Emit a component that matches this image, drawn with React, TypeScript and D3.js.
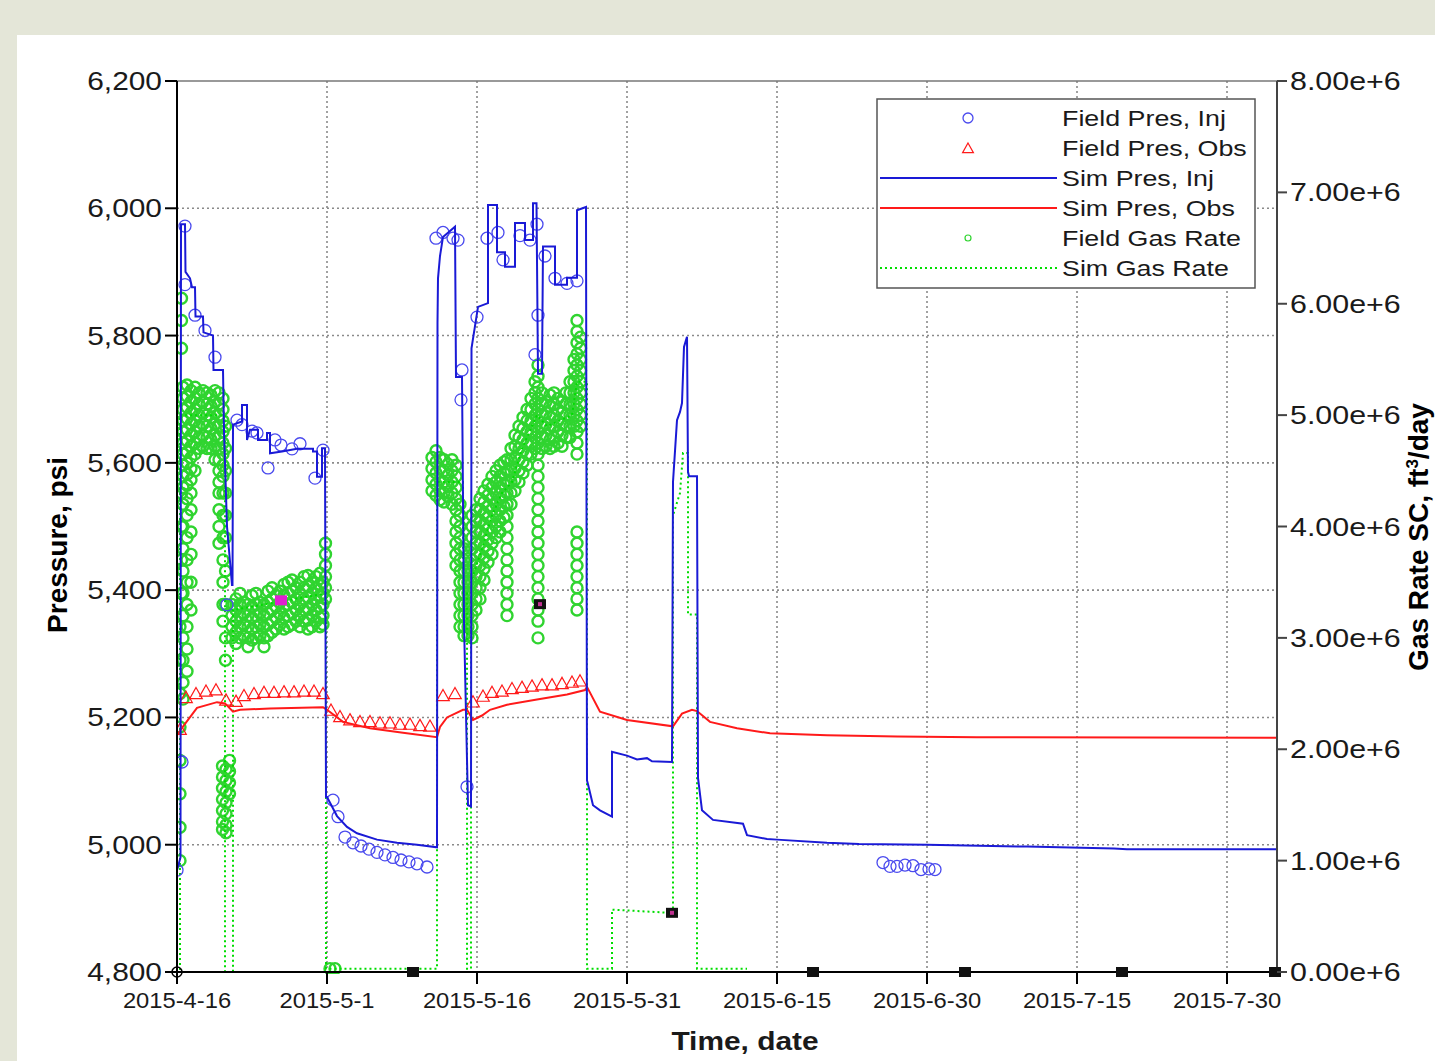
import React from 'react';
import * as d3 from 'd3';

// ---------- data (day offset from 2015-04-16) ----------
const startDate = Date.UTC(2015, 3, 16);

const xTickLabels = ['2015-4-16', '2015-5-1', '2015-5-16', '2015-5-31', '2015-6-15', '2015-6-30', '2015-7-15', '2015-7-30'];
const pressureTicks = [4800, 5000, 5200, 5400, 5600, 5800, 6000, 6200];
const gasTicks = [0, 1e6, 2e6, 3e6, 4e6, 5e6, 6e6, 7e6, 8e6];

// Sim Pres, Inj  [day, psi]
const simPresInj: [number, number][] = [
  [0, 4960], [0.35, 4980], [0.4, 5975], [0.8, 5975], [0.85, 5900], [1.3, 5890], [1.5, 5876], [1.8, 5876],
  [1.85, 5830], [2.6, 5830], [2.65, 5805], [3.6, 5800], [3.65, 5746], [4.6, 5746], [4.7, 5650], [5.0, 5500],
  [5.5, 5408], [5.55, 5408], [5.6, 5660], [6.5, 5665], [6.5, 5691], [7.0, 5691], [7.0, 5636], [7.3, 5652],
  [8.1, 5652], [8.1, 5636], [9.0, 5636], [9.0, 5647], [9.3, 5647], [9.3, 5615], [10.5, 5618], [12.0, 5622],
  [13.6, 5622], [13.6, 5618], [14.0, 5618], [14.0, 5578], [14.5, 5578], [14.5, 5623], [14.8, 5623],
  [14.9, 5075], [15.0, 5075], [15.5, 5060], [16.0, 5045], [17.0, 5028], [18.0, 5018], [20, 5008], [22, 5003],
  [24, 5000], [26.0, 4996], [26.05, 5820], [26.1, 5890], [26.3, 5925], [26.6, 5955], [27.8, 5971], [27.9, 5735],
  [28.5, 5735], [28.7, 5350], [29.1, 5062], [29.4, 5060], [29.45, 5780], [30.1, 5845], [31.1, 5851], [31.1, 6005],
  [32.0, 6005], [32.0, 5931], [32.8, 5931], [32.8, 5908], [33.8, 5908], [33.8, 5977], [34.8, 5977], [34.8, 5950],
  [35.6, 5950], [35.6, 6008], [35.95, 6008], [36.1, 5740], [36.5, 5740], [36.6, 5940], [37.8, 5940], [37.8, 5880],
  [39.0, 5880], [39.0, 5891], [40.0, 5891], [40.0, 5997], [40.9, 6002], [41.0, 5101], [41.1, 5095], [41.6, 5062],
  [42.3, 5054], [43.5, 5044], [43.5, 5146], [45, 5140], [46, 5134], [47, 5136], [47.5, 5131], [49.5, 5130],
  [49.6, 5570], [50.0, 5667], [50.3, 5680], [50.5, 5694], [50.7, 5782], [51.0, 5798], [51.1, 5586], [51.2, 5579],
  [52.0, 5579], [52.1, 5105], [52.5, 5054], [53.6, 5039], [56.6, 5033], [57.0, 5015], [59, 5009], [60, 5008],
  [65, 5003], [68.2, 5001], [75, 5000], [85, 4997], [93.7, 4994], [95, 4993], [110, 4993],
];

// Sim Pres, Obs  [day, psi]
const simPresObs: [number, number][] = [
  [0, 5172], [0.8, 5190], [2.0, 5215], [4.0, 5224], [4.8, 5222], [5.6, 5209], [6.3, 5212], [9.3, 5214],
  [14.6, 5216], [15.0, 5212], [16.6, 5193], [19.3, 5183], [22.6, 5176], [26.0, 5169], [26.3, 5185], [27.0, 5200],
  [28.6, 5212], [29.0, 5212], [29.6, 5196], [30.5, 5203], [31.3, 5212], [33, 5220], [36, 5228], [39, 5236],
  [40.8, 5243], [41.0, 5248], [42.3, 5209], [45, 5196], [49.6, 5186], [50.5, 5206], [51.5, 5212], [52.0, 5210],
  [53.3, 5193], [56, 5183], [59.3, 5175], [65, 5172], [72, 5170], [80, 5169], [110, 5168],
];

// Field Pres, Obs  [day, psi]
const fieldPresObs: [number, number][] = [
  [0.3, 5180], [0.9, 5230], [1.9, 5236], [2.9, 5240], [3.9, 5242], [4.9, 5226], [5.9, 5224], [6.7, 5233],
  [7.7, 5236], [8.7, 5238], [9.7, 5238], [10.7, 5239], [11.7, 5239], [12.7, 5240], [13.7, 5240], [14.6, 5236],
  [15.4, 5210], [16.3, 5200], [17.3, 5195], [18.3, 5192], [19.3, 5192], [20.3, 5190], [21.3, 5190], [22.3, 5188],
  [23.3, 5188], [24.3, 5186], [25.3, 5185], [26.6, 5233], [27.8, 5236], [29.6, 5223], [30.6, 5232], [31.5, 5238],
  [32.5, 5240], [33.5, 5244], [34.5, 5246], [35.5, 5248], [36.5, 5250], [37.5, 5250], [38.5, 5252], [39.5, 5254],
  [40.3, 5256],
];

// Field Pres, Inj  [day, psi]
const fieldPresInj: [number, number][] = [
  [0.0, 4960], [0.5, 5130], [0.8, 5972], [0.8, 5880], [1.8, 5832], [2.8, 5808], [3.8, 5766], [5.0, 5377],
  [6.0, 5667], [6.5, 5660], [7.5, 5650], [8.0, 5647], [9.1, 5592], [9.8, 5636], [10.4, 5628], [11.5, 5622],
  [12.3, 5630], [13.8, 5576], [14.6, 5620],
  [15.6, 5070], [16.1, 5044], [16.8, 5012], [17.6, 5003], [18.4, 4998], [19.2, 4993], [20.0, 4988], [20.8, 4984],
  [21.6, 4980], [22.4, 4976], [23.2, 4973], [24.0, 4970], [25.0, 4965],
  [25.9, 5953], [26.6, 5962], [27.6, 5953], [28.1, 5950], [28.5, 5746], [28.4, 5699], [29.0, 5091], [30.0, 5829],
  [31.0, 5953], [32.1, 5962], [32.6, 5919], [34.3, 5957], [35.3, 5950], [36.0, 5975], [36.1, 5832], [35.8, 5770],
  [36.8, 5925], [37.8, 5890], [39.0, 5882], [40.0, 5886],
  [70.6, 4972], [71.3, 4966], [72.0, 4966], [72.8, 4968], [73.6, 4967], [74.4, 4961], [75.2, 4962], [75.8, 4961],
];

// Field Gas Rate, read as columns: [day, rates in millions ft3/day ...]
const fieldGasColumns: [number, number[]][] = [
  [0.3, [1.0, 1.3, 1.6, 1.9, 2.2, 2.5, 2.8, 3.1]],
  [0.45, [3.4, 3.7, 4.0, 4.3, 5.6, 5.85, 6.05]],
  [0.6, [5.25, 5.15, 5.05, 4.95, 4.85, 4.75, 4.65, 4.55, 4.45, 4.35, 4.2, 4.0, 3.8, 3.6, 3.4, 3.2, 3.0, 2.8, 2.6, 2.45]],
  [1.0, [5.27, 5.17, 5.07, 4.97, 4.87, 4.77, 4.67, 4.57, 4.47, 4.37, 4.25, 4.1, 3.9, 3.7, 3.5, 3.3, 3.1, 2.9, 2.7]],
  [1.4, [5.22, 5.12, 5.02, 4.92, 4.82, 4.72, 4.62, 4.52, 4.42, 4.3, 4.15, 3.95, 3.75, 3.5, 3.25]],
  [1.8, [5.25, 5.15, 5.05, 4.95, 4.85, 4.75, 4.65, 4.5]],
  [2.2, [5.2, 5.1, 5.0, 4.9, 4.8, 4.7]],
  [2.6, [5.22, 5.12, 5.02, 4.92, 4.82, 4.72]],
  [3.0, [5.2, 5.1, 5.0, 4.9, 4.8, 4.7]],
  [3.4, [5.18, 5.08, 4.98, 4.88, 4.78, 4.7]],
  [3.8, [5.22, 5.12, 5.02, 4.92, 4.82, 4.72, 4.6]],
  [4.2, [5.2, 5.1, 5.0, 4.9, 4.8, 4.7, 4.6, 4.5, 4.4, 4.3, 4.15, 4.0, 3.85]],
  [4.6, [5.15, 5.05, 4.95, 4.85, 4.75, 4.65, 4.55, 4.45, 4.3, 4.1, 3.9, 3.7, 3.5, 3.3, 3.15]],
  [4.85, [4.9, 4.7, 4.5, 4.3, 4.1, 3.9, 3.6, 3.3, 3.0, 2.8]],
  [4.55, [1.85, 1.75, 1.65, 1.55, 1.45, 1.35, 1.28]],
  [4.9, [1.82, 1.72, 1.62, 1.52, 1.42, 1.32, 1.25]],
  [5.25, [1.9, 1.8, 1.7, 1.6]],
  [5.5, [3.3, 3.2, 3.1, 3.0]],
  [5.9, [3.35, 3.25, 3.15, 3.05, 2.95]],
  [6.3, [3.4, 3.3, 3.2, 3.1, 3.0]],
  [6.7, [3.32, 3.22, 3.12, 3.02]],
  [7.1, [3.3, 3.2, 3.1, 3.0, 2.92]],
  [7.5, [3.38, 3.28, 3.18, 3.08, 2.98]],
  [7.9, [3.4, 3.3, 3.2, 3.1, 3.0]],
  [8.3, [3.32, 3.22, 3.12, 3.02]],
  [8.7, [3.3, 3.2, 3.1, 3.0, 2.92]],
  [9.1, [3.42, 3.32, 3.22, 3.12, 3.02]],
  [9.5, [3.45, 3.35, 3.25, 3.15, 3.05]],
  [9.9, [3.38, 3.28, 3.18, 3.08]],
  [10.3, [3.42, 3.32, 3.22, 3.12]],
  [10.7, [3.48, 3.38, 3.28, 3.18, 3.08]],
  [11.1, [3.5, 3.4, 3.3, 3.2, 3.1]],
  [11.5, [3.52, 3.42, 3.32, 3.22, 3.12]],
  [11.9, [3.45, 3.35, 3.25, 3.15]],
  [12.3, [3.5, 3.4, 3.3, 3.2, 3.1]],
  [12.7, [3.55, 3.45, 3.35, 3.25, 3.15]],
  [13.1, [3.56, 3.46, 3.36, 3.26, 3.16, 3.08]],
  [13.5, [3.5, 3.4, 3.3, 3.2, 3.1]],
  [13.9, [3.55, 3.45, 3.35, 3.25, 3.15]],
  [14.3, [3.58, 3.48, 3.38, 3.28, 3.18, 3.1]],
  [14.6, [3.5, 3.4, 3.3, 3.2, 3.12]],
  [14.85, [3.85, 3.75, 3.65, 3.55, 3.45, 3.35]],
  [25.5, [4.62, 4.52, 4.42, 4.32]],
  [25.9, [4.68, 4.58, 4.48, 4.38, 4.28]],
  [26.3, [4.62, 4.52, 4.42, 4.32, 4.24]],
  [26.7, [4.6, 4.5, 4.4, 4.3, 4.22]],
  [27.1, [4.56, 4.46, 4.36, 4.27]],
  [27.5, [4.6, 4.5, 4.4, 4.3, 4.2]],
  [27.9, [4.55, 4.45, 4.35, 4.25, 4.15, 4.05, 3.95, 3.85, 3.75, 3.65]],
  [28.3, [4.2, 4.1, 4.0, 3.9, 3.8, 3.7, 3.6, 3.5, 3.4, 3.3, 3.2, 3.1]],
  [28.7, [3.8, 3.7, 3.6, 3.5, 3.4, 3.3, 3.2, 3.1, 3.02]],
  [29.1, [3.6, 3.5, 3.4, 3.3, 3.2, 3.1, 3.02]],
  [29.5, [4.1, 4.0, 3.9, 3.8, 3.7, 3.6, 3.5, 3.4, 3.3, 3.2, 3.1, 3.0]],
  [29.9, [4.15, 4.05, 3.95, 3.85, 3.75, 3.65, 3.55, 3.45, 3.35, 3.25]],
  [30.3, [4.25, 4.15, 4.05, 3.95, 3.85, 3.75, 3.65, 3.55, 3.45, 3.35]],
  [30.7, [4.32, 4.22, 4.12, 4.02, 3.92, 3.82, 3.72, 3.62, 3.52]],
  [31.1, [4.38, 4.28, 4.18, 4.08, 3.98, 3.88, 3.78, 3.68]],
  [31.5, [4.45, 4.35, 4.25, 4.15, 4.05, 3.95, 3.85, 3.75]],
  [31.9, [4.5, 4.4, 4.3, 4.2, 4.1, 4.0, 3.9]],
  [32.3, [4.55, 4.45, 4.35, 4.25, 4.15, 4.05, 3.95]],
  [32.7, [4.58, 4.48, 4.38, 4.28, 4.18, 4.08]],
  [33.0, [4.6, 4.5, 4.4, 4.3, 4.2, 4.1, 4.0, 3.9, 3.8, 3.7, 3.6, 3.5, 3.4, 3.3, 3.2]],
  [33.4, [4.7, 4.6, 4.5, 4.4, 4.3, 4.2]],
  [33.8, [4.82, 4.72, 4.62, 4.52, 4.42, 4.32]],
  [34.2, [4.9, 4.8, 4.7, 4.6, 4.5, 4.4]],
  [34.6, [4.98, 4.88, 4.78, 4.68, 4.58, 4.48]],
  [35.0, [5.05, 4.95, 4.85, 4.75, 4.65, 4.55]],
  [35.4, [5.15, 5.05, 4.95, 4.85, 4.75, 4.65]],
  [35.8, [5.3, 5.2, 5.1, 5.0, 4.9, 4.8, 4.7]],
  [36.1, [5.45, 5.35, 5.25, 5.15, 5.05, 4.95, 4.85, 4.75, 4.65, 4.55, 4.45, 4.35, 4.25, 4.15, 4.05, 3.95, 3.85, 3.75, 3.65, 3.55, 3.45, 3.35, 3.25, 3.15, 3.0]],
  [36.5, [5.2, 5.1, 5.0, 4.9, 4.8, 4.7]],
  [36.9, [5.12, 5.02, 4.92, 4.82, 4.72]],
  [37.3, [5.18, 5.08, 4.98, 4.88, 4.78, 4.7]],
  [37.7, [5.2, 5.1, 5.0, 4.9, 4.8, 4.72]],
  [38.1, [5.15, 5.05, 4.95, 4.85, 4.75]],
  [38.5, [5.12, 5.02, 4.92, 4.82, 4.72]],
  [38.9, [5.2, 5.1, 5.0, 4.9, 4.8]],
  [39.3, [5.3, 5.2, 5.1, 5.0, 4.9, 4.8]],
  [39.7, [5.5, 5.4, 5.3, 5.2, 5.1, 5.0, 4.9]],
  [40.0, [5.85, 5.75, 5.65, 5.55, 5.45, 5.35, 5.25, 5.15, 5.05, 4.95, 4.85, 4.75, 4.65, 3.95, 3.85, 3.75, 3.65, 3.55, 3.45, 3.35, 3.25]],
  [40.35, [5.7, 5.6, 5.5, 5.4, 5.3, 5.2, 5.1, 5.0, 4.9]],
  [15.3, [0.03]], [15.8, [0.03]],
];

// Sim Gas Rate [day, millions ft3/day]
const simGasRate: [number, number][] = [
  [0, 0], [0.3, 0], [0.3, 5.0], [4.8, 5.0], [4.8, 0], [5.6, 0], [5.6, 3.25], [14.9, 3.4], [14.9, 0.03],
  [26.0, 0.03], [26.0, 4.4], [28.6, 4.4], [28.6, 3.4], [29.0, 3.4], [29.0, 0.03], [29.4, 0.03], [29.4, 3.5],
  [30.5, 3.8], [31.5, 4.1], [32.5, 4.3], [33.5, 4.4], [34.5, 4.7], [35.5, 4.9], [36.0, 5.0], [37.0, 4.9],
  [39.5, 5.0], [40.0, 5.3], [41.0, 5.3], [41.0, 0.03], [43.5, 0.03], [43.5, 0.56], [49.6, 0.53], [49.6, 4.1],
  [50.3, 4.3], [50.6, 4.66], [51.1, 4.66], [51.1, 3.21], [52.0, 3.21], [52.0, 0.03], [57.0, 0.03],
];

// event markers [day, psi, kind]
const eventMarkers: [number, number, string][] = [
  [10.4, 5384, 'magenta'], [36.3, 5378, 'black'], [49.5, 4893, 'black'],
  [23.6, 4800, 'black'], [63.6, 4800, 'black'], [78.8, 4800, 'black'], [94.5, 4800, 'black'], [109.8, 4800, 'black'],
];

const legendItems = ['Field Pres, Inj', 'Field Pres, Obs', 'Sim Pres, Inj', 'Sim Pres, Obs', 'Field Gas Rate', 'Sim Gas Rate'];

// ---------- layout ----------
const W = 1435, H = 1061;
const L = 177, R = 1277, T = 81, B = 972;
const FONT = 'Arial, "Liberation Sans", sans-serif';

const toDate = (d: number) => new Date(startDate + d * 86400000);
const parseTick = (s: string) => { const [y, m, d] = s.split('-').map(Number); return new Date(Date.UTC(y, m - 1, d)); };

function SText(props: { x: number; y: number; sx: number; size: number; anchor?: string; weight?: string; children: React.ReactNode }) {
  const { x, y, sx, size, anchor, weight, children } = props;
  return (
    <text transform={`translate(${x},${y}) scale(${sx},1)`} textAnchor={anchor || 'start'} fontSize={size}
      fontWeight={weight || 'normal'} fill="#1a1a1a">{children}</text>
  );
}

export default function App() {
  const x = d3.scaleUtc().domain([toDate(0), toDate(110)]).range([L, R]);
  const yP = d3.scaleLinear().domain([4800, 6200]).range([B, T]);
  const yG = d3.scaleLinear().domain([0, 8e6]).range([B, T]);

  const lineP = d3.line<[number, number]>().x(d => x(toDate(d[0]))).y(d => yP(d[1]));
  const lineG = d3.line<[number, number]>().x(d => x(toDate(d[0]))).y(d => yG(d[1] * 1e6));

  const gasPts = fieldGasColumns.flatMap(([d, vals]) => vals.map(v => [d, v] as [number, number]));
  const tri = (cx: number, cy: number, s = 7) => `M${cx},${cy - s} L${cx + s * 0.9},${cy + s * 0.6} L${cx - s * 0.9},${cy + s * 0.6} Z`;
  const fmtP = d3.format(',');
  const fmtG = (v: number) => (v / 1e6).toFixed(2) + 'e+6';
  const BLUE = '#1a1ad6';
  const RED = '#ff1a1a';
  const GREEN_DOT = '#00dd00';
  const GREEN_PT = '#30d430';

  return (
    <svg width={W} height={H} style={{ position: 'absolute', left: 0, top: 0 }} fontFamily={FONT}>
      <rect x={0} y={0} width={W} height={H} fill="#e4e6d8" />
      <rect x={17} y={35} width={W - 17} height={H - 35} fill="#ffffff" />
      <defs>
        <clipPath id="plot"><rect x={L} y={T - 2} width={R - L} height={B - T + 4} /></clipPath>
      </defs>

      {/* grid */}
      {pressureTicks.slice(1, -1).map(p => (
        <line key={'hg' + p} x1={L} x2={R} y1={yP(p)} y2={yP(p)} stroke="#8a8a8a" strokeWidth={1.6} strokeDasharray="2,3" />
      ))}
      {xTickLabels.slice(1).map(s => (
        <line key={'vg' + s} x1={x(parseTick(s))} x2={x(parseTick(s))} y1={T} y2={B} stroke="#8a8a8a" strokeWidth={1.6} strokeDasharray="2,3" />
      ))}

      <g clipPath="url(#plot)">
        {/* field gas */}
        {gasPts.map((p, i) => (
          <circle key={'g' + i} cx={x(toDate(p[0]))} cy={yG(p[1] * 1e6)} r={5.5} fill="none" stroke={GREEN_PT} strokeWidth={2.4} />
        ))}
        <path d={lineG(simGasRate) || ''} fill="none" stroke={GREEN_DOT} strokeWidth={2} strokeDasharray="2,3" />
        {fieldPresObs.map((p, i) => (
          <path key={'t' + i} d={tri(x(toDate(p[0])), yP(p[1]))} fill="none" stroke={RED} strokeWidth={1.2} />
        ))}
        {fieldPresInj.map((p, i) => (
          <circle key={'c' + i} cx={x(toDate(p[0]))} cy={yP(p[1])} r={6} fill="none" stroke="#4a4aee" strokeWidth={1.3} />
        ))}
        <path d={lineP(simPresObs) || ''} fill="none" stroke={RED} strokeWidth={2} />
        <path d={lineP(simPresInj) || ''} fill="none" stroke={BLUE} strokeWidth={2} />
      </g>

      {/* frame */}
      <line x1={L} x2={R} y1={T} y2={T} stroke="#777" strokeWidth={1.5} />
      <line x1={R} x2={R} y1={T} y2={B} stroke="#444" strokeWidth={2} />
      <line x1={L} x2={L} y1={T} y2={B} stroke="#000" strokeWidth={2} />
      <line x1={L} x2={R} y1={B} y2={B} stroke="#000" strokeWidth={2} />

      {/* event markers */}
      {eventMarkers.map((m, i) => {
        const cx = x(toDate(m[0])), cy = yP(m[1]);
        return (
          <g key={'m' + i}>
            <rect x={cx - 6} y={cy - 5} width={12} height={10} fill={m[2] === 'magenta' ? '#e020d0' : '#111'} />
            {m[2] === 'black' && m[1] > 4800 ? <rect x={cx - 2} y={cy - 2} width={4} height={4} fill="#c03090" /> : null}
          </g>
        );
      })}
      <g stroke="#000" strokeWidth={1.5} fill="none">
        <circle cx={L} cy={B} r={5} />
        <line x1={L - 7} x2={L + 7} y1={B} y2={B} />
        <line x1={L} x2={L} y1={B - 7} y2={B + 7} />
      </g>

      {/* left axis */}
      {pressureTicks.map(p => (
        <g key={'lt' + p}>
          <line x1={L - 12} x2={L} y1={yP(p)} y2={yP(p)} stroke="#000" strokeWidth={2} />
          <SText x={162} y={yP(p) + 9} sx={1.15} size={26} anchor="end">{fmtP(p)}</SText>
        </g>
      ))}
      {/* right axis */}
      {gasTicks.map(g => (
        <g key={'rt' + g}>
          <line x1={R} x2={R + 10} y1={yG(g)} y2={yG(g)} stroke="#444" strokeWidth={2} />
          <SText x={1290} y={yG(g) + 9} sx={1.17} size={26}>{fmtG(g)}</SText>
        </g>
      ))}
      {/* bottom axis */}
      {xTickLabels.map(s => (
        <g key={'bt' + s}>
          <line x1={x(parseTick(s))} x2={x(parseTick(s))} y1={B} y2={B + 12} stroke="#000" strokeWidth={2} />
          <SText x={x(parseTick(s))} y={1008} sx={1.08} size={22} anchor="middle">{s}</SText>
        </g>
      ))}

      {/* axis titles */}
      <text transform="translate(67,545) rotate(-90)" textAnchor="middle" fontSize={28} fontWeight="bold" fill="#000">Pressure, psi</text>
      <SText x={745} y={1050} sx={1.15} size={26} anchor="middle" weight="bold">Time, date</SText>
      <text transform="translate(1428,537) rotate(-90)" textAnchor="middle" fontSize={28} fontWeight="bold" fill="#000">
        Gas Rate SC, ft<tspan dy={-10} fontSize={17}>3</tspan><tspan dy={10}>/day</tspan>
      </text>

      {/* legend */}
      <g>
        <rect x={877} y={99} width={378} height={189} fill="#fff" stroke="#555" strokeWidth={1.5} />
        {legendItems.map((name, i) => {
          const cy = 118 + i * 30;
          return (
            <g key={'lg' + i}>
              <SText x={1062} y={cy + 8} sx={1.22} size={22}>{name}</SText>
              {i === 0 ? <circle cx={968} cy={cy} r={5} fill="none" stroke="#4a4aee" strokeWidth={1.3} /> : null}
              {i === 1 ? <path d={tri(968, cy + 1, 6)} fill="none" stroke={RED} strokeWidth={1.2} /> : null}
              {i === 2 ? <line x1={880} x2={1057} y1={cy} y2={cy} stroke={BLUE} strokeWidth={2} /> : null}
              {i === 3 ? <line x1={880} x2={1057} y1={cy} y2={cy} stroke={RED} strokeWidth={2} /> : null}
              {i === 4 ? <circle cx={968} cy={cy} r={3} fill="none" stroke={GREEN_PT} strokeWidth={1.2} /> : null}
              {i === 5 ? <line x1={880} x2={1057} y1={cy} y2={cy} stroke={GREEN_DOT} strokeWidth={2} strokeDasharray="2,3" /> : null}
            </g>
          );
        })}
      </g>
    </svg>
  );
}
